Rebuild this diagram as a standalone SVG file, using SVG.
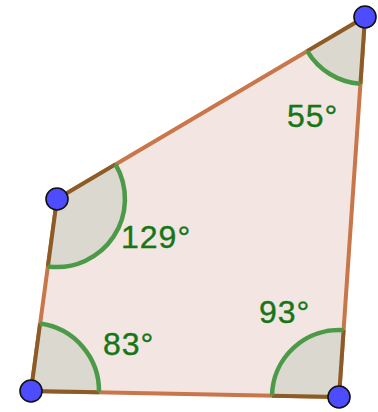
<svg xmlns="http://www.w3.org/2000/svg" width="378" height="412" viewBox="0 0 378 412">
<style>
.edge{stroke:#c8764a;stroke-width:4;fill:none;stroke-linecap:round}
.sector{fill:#dbd8cf;stroke:none}
.dark{stroke:#8d5c26;stroke-width:4;fill:none}
.arc{stroke:#4c9a48;stroke-width:4.5;fill:none}
.pt{fill:#4d4dff;stroke:#111;stroke-width:1.6}
.lbl{font-family:"Liberation Sans",Arial,sans-serif;font-size:32px;fill:#167616;stroke:#167616;stroke-width:0.4;letter-spacing:1px}
</style>
<rect width="378" height="412" fill="#ffffff"/>
<polygon points="365,17 57,199 31,391 339,397" fill="#f3e6e2" stroke="none"/>
<g id="connectors">
<line class="edge" x1="365" y1="17" x2="57" y2="199"/>
<line class="edge" x1="57" y1="199" x2="31" y2="391"/>
<line class="edge" x1="31" y1="391" x2="339" y2="397"/>
<line class="edge" x1="339" y1="397" x2="365" y2="17"/>
</g>
<g id="angle-55">
<path class="sector" d="M365,17 L307.3,51.1 A67,67 0 0 0 360.4,83.8 Z"/>
<path class="dark" d="M307.3,51.1 L365,17 L360.4,83.8"/>
<path class="arc" d="M307.3,51.1 A67,67 0 0 0 360.4,83.8"/>
<text class="lbl" x="287" y="127">55°</text>
</g>
<g id="angle-129">
<path class="sector" d="M57,199 L115.5,164.4 A68,68 0 0 1 47.9,266.4 Z"/>
<path class="dark" d="M115.5,164.4 L57,199 L47.9,266.4"/>
<path class="arc" d="M115.5,164.4 A68,68 0 0 1 47.9,266.4"/>
<text class="lbl" x="121" y="248">129°</text>
</g>
<g id="angle-83">
<path class="sector" d="M31,391 L40.1,323.6 A68,68 0 0 1 99,392.3 Z"/>
<path class="dark" d="M40.1,323.6 L31,391 L99,392.3"/>
<path class="arc" d="M40.1,323.6 A68,68 0 0 1 99,392.3"/>
<text class="lbl" x="103" y="355">83°</text>
</g>
<g id="angle-93">
<path class="sector" d="M339,397 L272,395.7 A67,67 0 0 1 343.6,330.2 Z"/>
<path class="dark" d="M272,395.7 L339,397 L343.6,330.2"/>
<path class="arc" d="M272,395.7 A67,67 0 0 1 343.6,330.2"/>
<text class="lbl" x="259" y="323">93°</text>
</g>
<g id="vertex-A"><circle class="pt" cx="365" cy="17" r="11"/></g>
<g id="vertex-B"><circle class="pt" cx="57" cy="199" r="11"/></g>
<g id="vertex-C"><circle class="pt" cx="31" cy="391" r="11"/></g>
<g id="vertex-D"><circle class="pt" cx="339" cy="397" r="11"/></g>
</svg>
